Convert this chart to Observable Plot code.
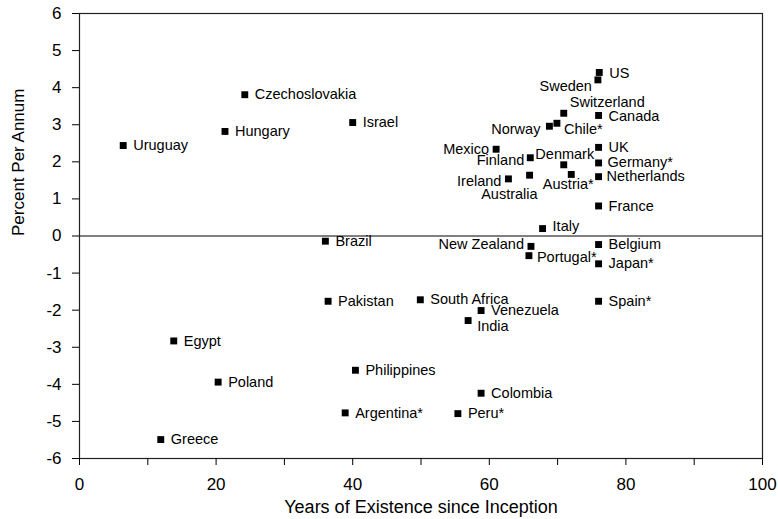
<!DOCTYPE html>
<html>
<head>
<meta charset="utf-8">
<script src="https://cdn.jsdelivr.net/npm/d3@7"></script>
<script src="https://cdn.jsdelivr.net/npm/@observablehq/plot@0.6"></script>
<style>
  html, body { margin: 0; padding: 0; background: white; }
</style>
</head>
<body>
<div id="chart"></div>
<script>
const countries = ["US","Sweden","Switzerland","Canada","Norway","Chile*","Mexico","Finland","Denmark","UK","Germany*","Netherlands","Ireland","Australia","Austria*","France","Italy","New Zealand","Belgium","Portugal*","Japan*","Spain*","Uruguay","Czechoslovakia","Hungary","Israel","Brazil","Pakistan","South Africa","Venezuela","India","Egypt","Poland","Philippines","Argentina*","Peru*","Colombia","Greece"];
const years = [76.1,75.9,70.9,76.0,68.8,69.9,61.0,66.0,70.9,76.0,76.0,76.0,62.8,65.9,72.0,76.0,67.8,66.1,76.0,65.8,76.0,76.0,6.4,24.2,21.3,40.0,36.0,36.4,49.9,58.8,56.9,13.8,20.3,40.4,38.9,55.4,58.8,11.9];
const returns = [4.41,4.21,3.31,3.25,2.96,3.04,2.34,2.11,1.92,2.39,1.97,1.60,1.54,1.64,1.66,0.81,0.20,-0.28,-0.23,-0.53,-0.75,-1.76,2.44,3.81,2.82,3.06,-0.14,-1.76,-1.72,-2.01,-2.28,-2.83,-3.94,-3.62,-4.77,-4.79,-4.24,-5.49];
const xTicks = [0,10,20,30,40,50,60,70,80,90,100];
const yTicks = [-6,-5,-4,-3,-2,-1,0,1,2,3,4,5,6];
const xTitle = "Years of Existence since Inception";
const yTitle = "Percent Per Annum";

// label placement (style): [dx, dy, anchor]
const labelPlacement = {
  "US": [10, 1, "start"],
  "Sweden": [-6, 6, "end"],
  "Switzerland": [6, -11, "start"],
  "Canada": [10, 1, "start"],
  "Norway": [-9, 3, "end"],
  "Chile*": [7, 6, "start"],
  "Mexico": [-7, 0, "end"],
  "Finland": [-6, 3, "end"],
  "Denmark": [1, -10, "middle"],
  "Germany*": [9, -1, "start"],
  "Netherlands": [8, 0, "start"],
  "Ireland": [-7, 2, "end"],
  "Australia": [8, 19, "end"],
  "Austria*": [-3, 10, "middle"],
  "Italy": [10, -2, "start"],
  "New Zealand": [-7, -2, "end"],
  "Portugal*": [8, 2, "start"],
  "India": [9, 6, "start"]
};

const data = countries.map((c, i) => ({country: c, years: years[i], ret: returns[i]}));

const labelMarks = data.map(d => {
  const p = labelPlacement[d.country] || [10, 0, "start"];
  return Plot.text([d], {x: "years", y: "ret", text: "country", dx: p[0], dy: p[1], textAnchor: p[2], fill: "black", fontSize: 14.5});
});

const chart = Plot.plot({
  width: 778,
  height: 519,
  marginLeft: 79,
  marginRight: 16,
  marginTop: 13,
  marginBottom: 61,
  x: {domain: [0, 100]},
  y: {domain: [-6, 6]},
  style: {fontFamily: "'Liberation Sans', Arial, sans-serif", background: "white", color: "black"},
  marks: [
    Plot.ruleY([0], {stroke: "black", strokeWidth: 1}),
    Plot.frame({stroke: "#222", strokeWidth: 1.2}),
    Plot.axisX({ticks: xTicks, tickSize: 7, tickPadding: 12, tickFormat: d => d % 20 === 0 ? String(d) : "", fontSize: 17, label: null}),
    Plot.axisY({ticks: yTicks, tickSize: 7, tickPadding: 11, tickFormat: d => String(d), fontSize: 17, label: null}),
    Plot.dot(data, {x: "years", y: "ret", symbol: "square", r: 3.9, fill: "black", stroke: "none"}),
    ...labelMarks,
    Plot.text([xTitle], {text: d => d, frameAnchor: "bottom", lineAnchor: "middle", dy: 49, fontSize: 18, fill: "black"}),
    Plot.text([yTitle], {text: d => d, frameAnchor: "left", lineAnchor: "middle", dx: -61, rotate: -90, fontSize: 17, fill: "black"})
  ]
});
document.getElementById("chart").appendChild(chart);
</script>
</body>
</html>
